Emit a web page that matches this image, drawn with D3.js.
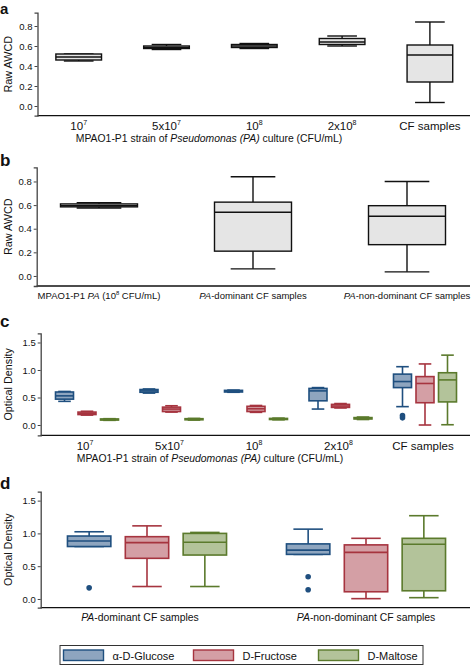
<!DOCTYPE html>
<html><head><meta charset="utf-8">
<script src="https://cdn.jsdelivr.net/npm/d3@7"></script>
<style>body{margin:0;background:#fff}svg{display:block;font-family:"Liberation Sans",Arial,sans-serif}</style>
</head><body>
<script>
// ---------- DATA ----------
// Panel a
const aCats = ["10^7", "5x10^7", "10^8", "2x10^8", "CF samples"];
const aLabels = [["10","7"],["5x10","7"],["10","8"],["2x10","8"],["CF samples",""]];
const aLow  = [0.45, 0.565, 0.575, 0.60, 0.035];
const aQ1   = [0.46, 0.575, 0.585, 0.615, 0.24];
const aMed  = [0.49, 0.585, 0.600, 0.64, 0.51];
const aQ3   = [0.52, 0.600, 0.615, 0.675, 0.61];
const aHigh = [0.52, 0.615, 0.625, 0.70, 0.84];
const abTicks = [0, 0.2, 0.4, 0.6, 0.8];

// Panel b
const bCats = ["MPAO1", "PAdom", "PAnondom"];
const bLabels = [
  [["MPAO1-P1 ",""],["PA","i"],[" (10",""],["8","s"],[" CFU/mL)",""]],
  [["PA","i"],["-dominant CF samples",""]],
  [["PA","i"],["-non-dominant CF samples",""]]
];
const bLow  = [0.575, 0.06, 0.035];
const bQ1   = [0.585, 0.21, 0.265];
const bMed  = [0.595, 0.54, 0.505];
const bQ3   = [0.610, 0.625, 0.595];
const bHigh = [0.620, 0.84, 0.80];

// Panel c (substrates x culture)
const substrates = ["α-D-Glucose", "D-Fructose", "D-Maltose"];
const cCats = aCats;
const cLow  = [[0.43,0.58,0.595,0.29,0.334],[0.18,0.235,0.23,0.31,0.0],[0.085,0.09,0.095,0.10,0.005]];
const cQ1   = [[0.47,0.595,0.60,0.44,0.68],[0.19,0.245,0.245,0.32,0.405],[0.09,0.095,0.10,0.11,0.42]];
const cMed  = [[0.53,0.62,0.615,0.62,0.79],[0.21,0.29,0.295,0.345,0.755],[0.10,0.105,0.11,0.12,0.82]];
const cQ3   = [[0.60,0.645,0.63,0.665,0.925],[0.235,0.325,0.34,0.375,0.88],[0.11,0.115,0.12,0.135,0.95]];
const cHigh = [[0.61,0.655,0.635,0.68,1.06],[0.25,0.35,0.355,0.39,1.11],[0.115,0.12,0.125,0.145,1.27]];
const cOut  = [[[],[],[],[],[0.17,0.13]],[[],[],[],[],[]],[[],[],[],[],[]]];
const cdTicks = [0, 0.5, 1.0, 1.5];

// Panel d
const dCats = ["PAdom", "PAnondom"];
const dLabels = [bLabels[1], bLabels[2]];
const dLow  = [[0.80,0.68],[0.19,0.005],[0.19,0.02]];
const dQ1   = [[0.80,0.68],[0.62,0.11],[0.67,0.125]];
const dMed  = [[0.885,0.745],[0.86,0.71],[0.865,0.835]];
const dQ3   = [[0.96,0.84],[0.95,0.825],[1.00,0.925]];
const dHigh = [[1.025,1.065],[1.115,0.925],[1.015,1.27]];
const dOut  = [[[0.17],[0.34,0.14]],[[],[]],[[],[]]];

const strokeCols = ["#1f4f7f", "#a6343f", "#5b7a2c"];
const fillCols   = ["#8ea5bf", "#d49fa5", "#b3c39a"];

// ---------- DRAW ----------
const W = 472, H = 665;
const svg = d3.select("body").append("svg").attr("width", W).attr("height", H);

function panelLetter(t, y, size){
  svg.append("text").attr("x", 0).attr("y", y).attr("font-size", size || 17).attr("font-weight", "bold")
    .attr("fill", "#111").text(t);
}
function yAxis(y, x, ticks, fmt, title, titleX){
  const g = svg.append("g").attr("transform", `translate(${x},0)`)
    .call(d3.axisLeft(y).tickValues(ticks).tickFormat(d3.format(fmt)).tickSizeOuter(0).tickSize(3).tickPadding(2));
  g.select(".domain").attr("stroke", "#444").attr("stroke-width", 1.3);
  g.selectAll(".tick line").attr("stroke", "#444");
  g.selectAll(".tick text").attr("font-size", 9.5).attr("fill", "#111").attr("font-family", "Liberation Sans, Arial, sans-serif");
  const r = y.range();
  svg.append("text").attr("transform", `translate(${titleX},${(r[0]+r[1])/2}) rotate(-90)`)
    .attr("text-anchor", "middle").attr("dominant-baseline", "central")
    .attr("font-size", 10.8).attr("fill", "#111").text(title);
}
function xLine(x0, x1, yv){
  svg.append("line").attr("x1", x0).attr("x2", x1).attr("y1", yv).attr("y2", yv)
    .attr("stroke", "#111").attr("stroke-width", 1.3);
}
function supLabel(x, yv, parts){
  const t = svg.append("text").attr("x", x).attr("y", yv).attr("text-anchor", "middle")
    .attr("font-size", 11.5).attr("fill", "#111");
  t.append("tspan").text(parts[0]);
  if (parts[1]) t.append("tspan").attr("font-size", 7).attr("dy", -4.5).text(parts[1]);
}
function richLabel(x, yv, parts, size){
  const t = svg.append("text").attr("x", x).attr("y", yv).attr("text-anchor", "middle")
    .attr("font-size", size).attr("fill", "#111");
  let shifted = false;
  parts.forEach(([s, k]) => {
    const sp = t.append("tspan").text(s);
    if (k === "i") sp.attr("font-style", "italic");
    if (k === "s") { sp.attr("font-size", size*0.62).attr("dy", -4); shifted = true; }
    else if (shifted) { sp.attr("dy", 4); shifted = false; }
  });
}
function box(cx, w, capW, y, lo, q1, med, q3, hi, stroke, fill, sw){
  const g = svg.append("g");
  g.append("line").attr("x1", cx).attr("x2", cx).attr("y1", y(hi)).attr("y2", y(q3)).attr("stroke", stroke).attr("stroke-width", sw);
  g.append("line").attr("x1", cx).attr("x2", cx).attr("y1", y(q1)).attr("y2", y(lo)).attr("stroke", stroke).attr("stroke-width", sw);
  g.append("line").attr("x1", cx-capW/2).attr("x2", cx+capW/2).attr("y1", y(hi)).attr("y2", y(hi)).attr("stroke", stroke).attr("stroke-width", sw);
  g.append("line").attr("x1", cx-capW/2).attr("x2", cx+capW/2).attr("y1", y(lo)).attr("y2", y(lo)).attr("stroke", stroke).attr("stroke-width", sw);
  g.append("rect").attr("x", cx-w/2).attr("width", w).attr("y", y(q3)).attr("height", Math.max(0.5, y(q1)-y(q3)))
    .attr("fill", fill).attr("stroke", stroke).attr("stroke-width", sw);
  g.append("line").attr("x1", cx-w/2).attr("x2", cx+w/2).attr("y1", y(med)).attr("y2", y(med)).attr("stroke", stroke).attr("stroke-width", sw);
}

// ----- Panel a -----
panelLetter("a", 14, 15);
const yA = d3.scaleLinear().domain([-0.097, 0.933]).range([115.7, 12.7]);
const xA = d3.scaleBand().domain(aCats).range([34.8, 473.8]);
xLine(37.5, 470, 115.7);
yAxis(yA, 37.5, abTicks, ".1f", "Raw AWCD", 7.5);
aCats.forEach((c, i) => {
  const cx = xA(c) + xA.bandwidth()/2, w = xA.bandwidth()*0.52;
  box(cx, w, w*0.65, yA, aLow[i], aQ1[i], aMed[i], aQ3[i], aHigh[i], "#111", "#e5e5e5", 1.4);
  supLabel(cx, 129.5, aLabels[i]);
});
richLabel(209, 141.5, [["MPAO1-P1 strain of ",""],["Pseudomonas (PA)","i"],[" culture (CFU/mL)",""]], 10.4);

// ----- Panel b -----
panelLetter("b", 166);
const yB = d3.scaleLinear().domain([-0.085, 0.92]).range([286, 167.3]);
const xB = d3.scaleBand().domain(bCats).range([22, 484]);
xLine(36.7, 470, 286);
yAxis(yB, 36.7, abTicks, ".1f", "Raw AWCD", 7.5);
bCats.forEach((c, i) => {
  const cx = xB(c) + xB.bandwidth()/2, w = xB.bandwidth()*0.5;
  box(cx, w, w*0.58, yB, bLow[i], bQ1[i], bMed[i], bQ3[i], bHigh[i], "#111", "#e5e5e5", 1.4);
  richLabel(cx, 299, bLabels[i], 9.5);
});

// ----- Panel c -----
panelLetter("c", 327);
const yC = d3.scaleLinear().domain([-0.187, 1.667]).range([435.3, 333.3]);
const xC = d3.scaleBand().domain(cCats).range([44.75, 467.25]);
const sC = d3.scaleBand().domain(substrates).range([-36, 36]).padding(0.2);
xLine(40.7, 470, 435.3);
yAxis(yC, 40.7, cdTicks, ".1f", "Optical Density", 7.5);
cCats.forEach((c, i) => {
  const gc = xC(c) + xC.bandwidth()/2;
  substrates.forEach((s, k) => {
    const cx = gc + sC(s) + sC.bandwidth()/2, w = sC.bandwidth();
    box(cx, w, w*0.7, yC, cLow[k][i], cQ1[k][i], cMed[k][i], cQ3[k][i], cHigh[k][i], strokeCols[k], fillCols[k], 1.6);
    cOut[k][i].forEach(v => svg.append("circle").attr("cx", cx).attr("cy", yC(v)).attr("r", 2.8).attr("fill", strokeCols[k]));
  });
  supLabel(gc - 2, 449.5, aLabels[i]);
});
richLabel(210, 461.5, [["MPAO1-P1 strain of ",""],["Pseudomonas (PA)","i"],[" culture (CFU/mL)",""]], 10.4);

// ----- Panel d -----
panelLetter("d", 489);
const yD = d3.scaleLinear().domain([-0.133, 1.636]).range([607.7, 491.7]);
const xD = d3.scaleBand().domain(dCats).range([37.5, 475.5]);
const sD = d3.scaleBand().domain(substrates).range([-94, 94]).padding(0.25);
xLine(40.7, 470, 607.7);
yAxis(yD, 40.7, cdTicks, ".1f", "Optical Density", 7.5);
dCats.forEach((c, i) => {
  const gc = xD(c) + xD.bandwidth()/2;
  substrates.forEach((s, k) => {
    const cx = gc + sD(s) + sD.bandwidth()/2, w = sD.bandwidth();
    box(cx, w, w*0.68, yD, dLow[k][i], dQ1[k][i], dMed[k][i], dQ3[k][i], dHigh[k][i], strokeCols[k], fillCols[k], 1.6);
    dOut[k][i].forEach(v => svg.append("circle").attr("cx", cx).attr("cy", yD(v)).attr("r", 2.8).attr("fill", strokeCols[k]));
  });
  richLabel(gc + (i === 0 ? -7 : 0), 621, dLabels[i], 10.4);
});

// ----- Legend -----
const leg = svg.append("g");
leg.append("rect").attr("x", 60).attr("y", 645.5).attr("width", 363).attr("height", 19)
  .attr("fill", "#fff").attr("stroke", "#333").attr("stroke-width", 1);
const legX = [63.5, 193.5, 318.5];
substrates.forEach((s, k) => {
  leg.append("rect").attr("x", legX[k]).attr("y", 650).attr("width", 40).attr("height", 10.5)
    .attr("fill", fillCols[k]).attr("stroke", strokeCols[k]).attr("stroke-width", 1.4);
  leg.append("text").attr("x", legX[k] + 49).attr("y", 655.5).attr("dominant-baseline", "central")
    .attr("font-size", 11).attr("fill", "#111").text(s);
});
</script>
</body></html>
